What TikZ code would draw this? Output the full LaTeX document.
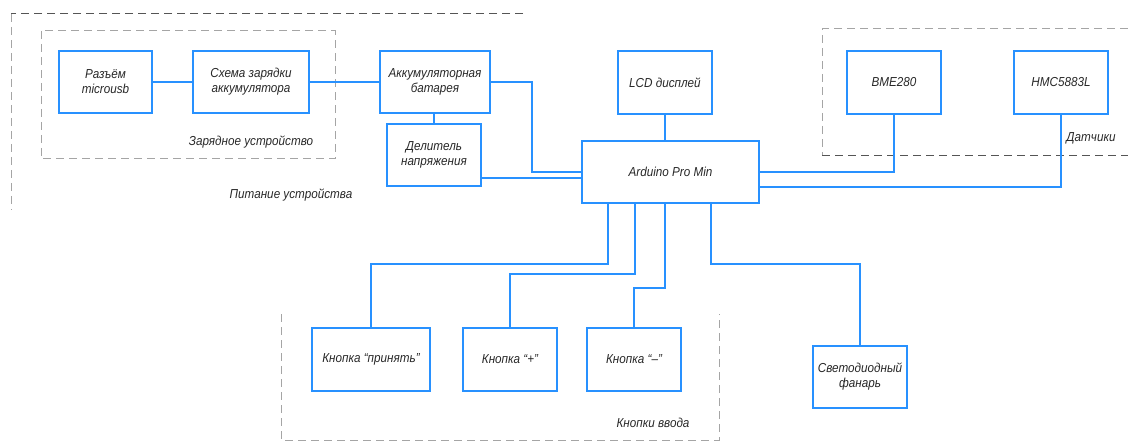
\documentclass[tikz,border=0pt]{standalone}
\usepackage{fontspec}
\setmainfont[FakeStretch=0.9]{Liberation Sans}
\usetikzlibrary{calc}
\definecolor{wireblue}{RGB}{40,145,255}
\definecolor{dashdark}{RGB}{85,85,85}
\definecolor{dashlight}{RGB}{165,165,165}
\definecolor{txt}{RGB}{40,40,40}
\tikzset{
  box/.style={draw=wireblue, line width=1.6pt, fill=white, align=center, inner sep=2pt,
    font=\itshape\fontsize{13}{15}\selectfont, text=txt},
  wire/.style={draw=wireblue, line width=1.4pt},
  grpdark/.style={draw=dashdark, line width=1pt, dash pattern=on 8pt off 5pt},
  grplight/.style={draw=dashlight, line width=1pt, dash pattern=on 8pt off 5pt},
  grplabel/.style={font=\itshape\fontsize{13}{15}\selectfont, text=txt},
}
\begin{document}
\begin{tikzpicture}[x=1pt,y=-1pt]
\useasboundingbox (0,0) rectangle (1128,441);
% groups
\draw[grpdark] (523,14) -- (11,14);
\draw[grplight] (11,14) -- (11,210);
\draw[grplight] (41,31) rectangle (335,159);
\draw[grplight] (1128,29) -- (822,29) -- (822,156);
\draw[grpdark] (822,156) -- (1128,156);
\draw[grplight] (281,314) -- (281,440) -- (719,440) -- (719,314);
\node[grplabel] (lblcharge) at (251,142) {Зарядное устройство};
\node[grplabel] (lblpower) at (291,195) {Питание устройства};
\node[grplabel] (lblsens) at (1091,138) {Датчики};
\node[grplabel] (lblbtn) at (653,423) {Кнопки ввода};
% boxes
\node[box, minimum width=93pt, minimum height=62pt] (usb) at (105.5,82) {Разъём\\microusb};
\node[box, minimum width=116pt, minimum height=62pt] (chg) at (251,82) {Схема зарядки\\аккумулятора};
\node[box, minimum width=110pt, minimum height=62pt] (bat) at (435,82) {Аккумуляторная\\батарея};
\node[box, minimum width=94pt, minimum height=62pt] (div) at (434,155) {Делитель\\напряжения};
\node[box, minimum width=94pt, minimum height=63pt] (lcd) at (665,82.5) {LCD дисплей};
\node[box, minimum width=94pt, minimum height=63pt] (bme) at (894,82.5) {BME280};
\node[box, minimum width=94pt, minimum height=63pt] (hmc) at (1061,82.5) {HMC5883L};
\node[box, minimum width=177pt, minimum height=62pt] (ard) at (670.5,172) {Arduino Pro Min};
\node[box, minimum width=118pt, minimum height=63pt] (b1) at (371,359.5) {Кнопка “принять”};
\node[box, minimum width=94pt, minimum height=63pt] (b2) at (510,359.5) {Кнопка “+”};
\node[box, minimum width=94pt, minimum height=63pt] (b3) at (634,359.5) {Кнопка “–”};
\node[box, minimum width=94pt, minimum height=62pt] (led) at (860,377) {Светодиодный\\фанарь};
% junction coordinates
\coordinate (j1) at (532,172);
\coordinate (j2) at (532,178);
\coordinate (j3) at (894,172);
\coordinate (j4) at (1061,187);
\coordinate (s1) at (608,203);
\coordinate (s2) at (635,203);
\coordinate (s3) at (665,203);
\coordinate (s4) at (711,203);
\coordinate (k1) at (608,264);
\coordinate (k2) at (635,274);
\coordinate (k3) at (665,288);
\coordinate (k4) at (711,264);
% connectors
\draw[wire] (usb.east) -- (chg.west);
\draw[wire] (chg.east) -- (bat.west);
\draw[wire] (bat.south -| div.north) -- (div.north);
\draw[wire] (bat.east) -| (j1) -- (j1 -| ard.west);
\draw[wire] (div.east |- j2) -- (j2 -| ard.west);
\draw[wire] (lcd.south) -- (lcd.south |- ard.north);
\draw[wire] (bme.south) -- (j3) -- (j3 -| ard.east);
\draw[wire] (hmc.south) -- (j4) -- (j4 -| ard.east);
\draw[wire] (s1) -- (k1) -| (b1.north);
\draw[wire] (s2) -- (k2) -| (b2.north);
\draw[wire] (s3) -- (k3) -| (b3.north);
\draw[wire] (s4) -- (k4) -| (led.north);
\end{tikzpicture}
\end{document}
